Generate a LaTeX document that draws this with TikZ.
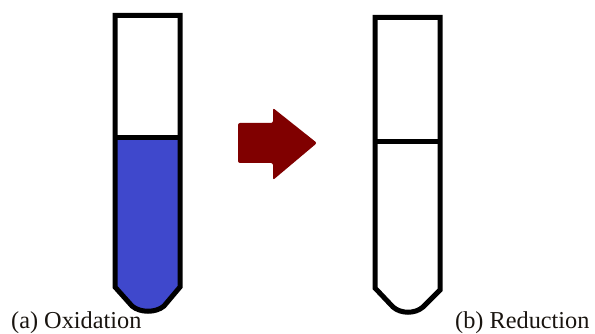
\documentclass[tikz,border=0pt]{standalone}
\usepackage{fontspec}
\setmainfont{Liberation Serif}
\definecolor{liquid}{RGB}{63,72,204}
\definecolor{arrowred}{RGB}{128,0,0}
\definecolor{labelcol}{RGB}{25,20,15}
\begin{document}
\begin{tikzpicture}[x=1pt,y=-1pt,
  tubeline/.style={line width=5pt,draw=black,line join=miter},
  caption/.style={inner sep=0pt,anchor=base west,text=labelcol,font=\fontsize{24.3}{24.3}\selectfont}]
\useasboundingbox (0,0) rectangle (595,334);
% tube (a)
\fill[liquid] (115,138) -- (115,287) -- (132,306) .. controls (140,313) and (156,313) .. (164,306) -- (180,287) -- (180,138) -- cycle;
\draw[tubeline] (115,15.5) -- (115,287) -- (132,306) .. controls (140,313) and (156,313) .. (164,306) -- (180,287) -- (180,15.5) -- cycle;
\draw[tubeline] (115,138) -- (180,138);
% tube (b)
\draw[tubeline] (375,17.5) -- (375,288) -- (393,307) .. controls (401,314) and (415,314) .. (423,307) -- (440,290) -- (440,17.5) -- cycle;
\draw[tubeline] (375,142) -- (440,142);
% arrow
\fill[arrowred,rounded corners=2pt] (238,123) -- (273,123) -- (273,108) -- (317,143) -- (273,180) -- (273,163) -- (238,163) -- cycle;
% labels
\node[caption] (la) at (11,328) {(a) Oxidation};
\node[caption] (lb) at (455,328) {(b) Reduction};
\end{tikzpicture}
\end{document}
